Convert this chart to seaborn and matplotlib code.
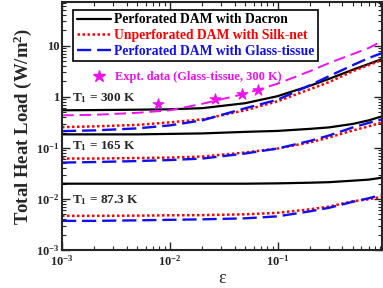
import numpy as np
import pandas as pd
import matplotlib
matplotlib.use("Agg")
import matplotlib.pyplot as plt
import seaborn as sns
from matplotlib.lines import Line2D
from matplotlib.ticker import FixedLocator, FixedFormatter, LogLocator, NullFormatter

eps = [0.001, 0.002, 0.005, 0.01, 0.02, 0.05, 0.1, 0.2, 0.3, 0.5, 0.7, 0.93]

# T1 = 300 K
dacron_300 = [0.545, 0.55, 0.56, 0.57, 0.60, 0.75, 1.03, 1.65, 2.25, 3.4, 4.4, 5.5]
silk_300 = [0.255, 0.264, 0.282, 0.316, 0.362, 0.545, 0.819, 1.41, 1.94, 3.19, 4.19, 5.25]
glass_300 = [0.213, 0.220, 0.241, 0.276, 0.346, 0.597, 0.877, 1.69, 2.54, 4.19, 5.75, 7.21]
fit_300 = [0.434, 0.444, 0.486, 0.545, 0.731, 1.15, 1.81, 3.19, 4.59, 6.90, 9.05, 12.4]

# T1 = 165 K
dacron_165 = [0.184, 0.184, 0.184, 0.188, 0.192, 0.206, 0.215, 0.236, 0.252, 0.295, 0.346, 0.415]
silk_165 = [0.0619, 0.0619, 0.0633, 0.0646, 0.0677, 0.0812, 0.0973, 0.128, 0.160, 0.220, 0.264, 0.316]
glass_165 = [0.0516, 0.0528, 0.0552, 0.0578, 0.0618, 0.0776, 0.0973, 0.137, 0.175, 0.252, 0.309, 0.362]

# T1 = 87.3 K
dacron_87 = [0.0199, 0.0199, 0.0199, 0.0199, 0.0199, 0.0199, 0.0202, 0.0208, 0.0213, 0.0228, 0.0239, 0.0261]
silk_87 = [0.00467, 0.00467, 0.00471, 0.00478, 0.00482, 0.00500, 0.00535, 0.00627, 0.00708, 0.00902, 0.00987, 0.0110]
glass_87 = [0.00372, 0.00372, 0.00381, 0.00390, 0.00399, 0.00417, 0.00456, 0.00573, 0.00671, 0.00881, 0.0103, 0.0121]

# experimental points (glass-tissue, 300 K)
expt_eps = [0.0078, 0.0262, 0.0463, 0.0658]
expt_q = [0.715, 0.897, 1.125, 1.35]

temp_labels = ["T$_1$ = 300 K", "T$_1$ = 165 K", "T$_1$ = 87.3 K"]
temp_pos = [0.95, 0.11, 0.0097]

sns.set_style("ticks")
plt.rcParams["font.family"] = ["Liberation Serif", "DejaVu Serif"]
plt.rcParams["font.weight"] = "bold"
plt.rcParams["axes.labelweight"] = "bold"
plt.rcParams["mathtext.fontset"] = "custom"
plt.rcParams["mathtext.rm"] = "Liberation Serif:bold"
plt.rcParams["mathtext.it"] = "Liberation Serif:bold"
plt.rcParams["mathtext.bf"] = "Liberation Serif:bold"
plt.rcParams["mathtext.default"] = "rm"

fig = plt.figure(figsize=(3.83, 2.88), dpi=100)
ax = fig.add_axes([62 / 383, 1 - 250 / 288, 320 / 383, 248 / 288])

blue = "#1010ee"
magenta = "#ee11ee"
styles = {
    "dacron": dict(color="black", ls="-", lw=1.6),
    "silk": dict(color="red", ls=(0, (1, 1)), lw=1.8),
    "glass": dict(color=blue, ls=(0, (6, 2.5)), lw=1.7),
}

sets = [
    (dacron_300, "dacron"), (silk_300, "silk"), (glass_300, "glass"),
    (dacron_165, "dacron"), (silk_165, "silk"), (glass_165, "glass"),
    (dacron_87, "dacron"), (silk_87, "silk"), (glass_87, "glass"),
]
for vals, key in sets:
    sns.lineplot(x=eps, y=vals, ax=ax, **styles[key])

sns.lineplot(x=eps, y=fit_300, ax=ax, color=magenta, ls=(0, (6, 3)), lw=1.4)
sns.scatterplot(x=expt_eps, y=expt_q, ax=ax, marker="*", s=70, color=magenta,
                edgecolor=magenta, zorder=5)

ax.set_xscale("log")
ax.set_yscale("log")
ax.set_xlim(1e-3, 0.93)
ax.set_ylim(1e-3, 72)

ax.yaxis.set_major_locator(FixedLocator([1e-3, 1e-2, 1e-1, 1, 10]))
ax.yaxis.set_major_formatter(FixedFormatter(["$10^{-3}$", "$10^{-2}$", "$10^{-1}$", "1", "10"]))
ax.yaxis.set_minor_locator(LogLocator(base=10, subs=np.arange(2, 10)))
ax.yaxis.set_minor_formatter(NullFormatter())
ax.xaxis.set_major_locator(FixedLocator([1e-3, 1e-2, 1e-1]))
ax.xaxis.set_major_formatter(FixedFormatter(["$10^{-3}$", "$10^{-2}$", "$10^{-1}$"]))
ax.xaxis.set_minor_locator(LogLocator(base=10, subs=np.arange(2, 10)))
ax.xaxis.set_minor_formatter(NullFormatter())

ax.tick_params(which="both", direction="in", top=True, right=True, labelsize=9, pad=2)
ax.tick_params(axis="x", pad=3)
ax.tick_params(which="major", length=6, width=1)
ax.tick_params(which="minor", length=3, width=0.8)
for sp in ax.spines.values():
    sp.set_linewidth(1.5)

ax.set_xlabel("ε", fontsize=13, labelpad=1, fontweight="normal")
ax.set_ylabel("Total Heat Load (W/m$^2$)", fontsize=13.5, labelpad=1, fontweight="bold")

for lab, yv in zip(temp_labels, temp_pos):
    ax.text(1.25e-3, yv, lab, fontsize=9.5, va="center", ha="left")

h = [Line2D([], [], **styles["dacron"]), Line2D([], [], **styles["silk"]),
     Line2D([], [], **styles["glass"])]
names = ["Perforated DAM with Dacron", "Unperforated DAM with Silk-net",
         "Perforated DAM with Glass-tissue"]
leg = ax.legend(h, names, loc="upper left", bbox_to_anchor=(0.035, 0.968),
                borderaxespad=0, fontsize=9.8, fancybox=False, framealpha=1,
                edgecolor="black", handlelength=2.5, handletextpad=0.25,
                labelspacing=0.2, borderpad=0.25)
leg.get_frame().set_linewidth(1.2)
for t, c in zip(leg.get_texts(), ["black", "red", blue]):
    t.set_color(c)
ax.add_artist(leg)

hs = [Line2D([], [], ls="none", marker="*", ms=9, color=magenta)]
leg2 = ax.legend(hs, ["Expt. data (Glass-tissue, 300 K)"], loc="upper left",
                 bbox_to_anchor=(0.07, 0.74), borderaxespad=0, fontsize=8.9,
                 frameon=False, handletextpad=0.6, handlelength=1.5)
leg2.get_texts()[0].set_color(magenta)

fig.savefig("out.png", dpi=100)
